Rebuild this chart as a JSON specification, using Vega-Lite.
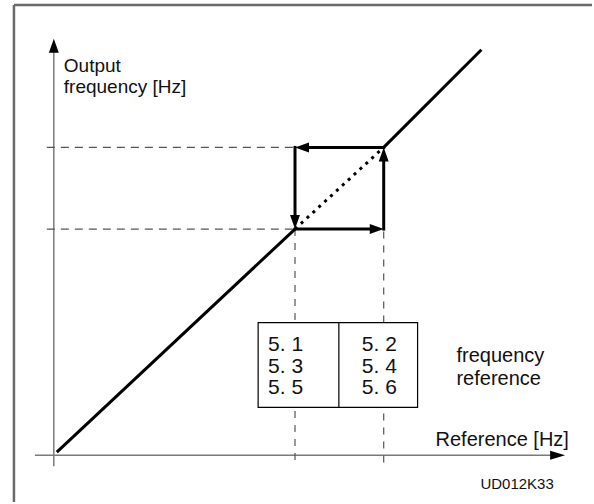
{
  "$schema": "https://vega.github.io/schema/vega-lite/v6.json",
  "width": 594,
  "height": 504,
  "padding": 0,
  "autosize": {"type": "fit", "contains": "padding"},
  "background": "white",
  "config": {"view": {"stroke": null}, "text": {"font": "Liberation Sans"}},
  "datasets": {
    "frame": [
      {"ref": -40, "out": 452, "ref2": 540, "out2": 452},
      {"ref": -40, "out": 452, "ref2": -40, "out2": -47}
    ],
    "axes": [
      {"ref": -19, "out": 0, "ref2": 501, "out2": 0},
      {"ref": 0, "out": -11, "ref2": 0, "out2": 407}
    ],
    "curve": [
      {"ref": 3, "out": 3, "ref2": 242, "out2": 227},
      {"ref": 331, "out": 309, "ref2": 429, "out2": 407}
    ],
    "skip": [
      {"ref": 242, "out": 227, "ref2": 331, "out2": 309}
    ],
    "hyst": [
      {"ref": 242, "out": 227, "ref2": 320, "out2": 227},
      {"ref": 331, "out": 227, "ref2": 331, "out2": 298},
      {"ref": 331, "out": 309, "ref2": 253, "out2": 309},
      {"ref": 242, "out": 309, "ref2": 242, "out2": 238}
    ],
    "hdash": [
      {"ref": -7, "out": 309, "ref2": 242, "out2": 309},
      {"ref": -7, "out": 227, "ref2": 242, "out2": 227}
    ],
    "vdash": [
      {"ref": 242, "out": 227, "ref2": 242, "out2": -10},
      {"ref": 331, "out": 309, "ref2": 331, "out2": -10}
    ],
    "table": [{"ref": 205, "out": 133, "ref2": 365, "out2": 48}],
    "divider": [{"ref": 286, "out": 133, "ref2": 286, "out2": 48}],
    "nums": [
      {"ref": 215, "out": 105, "label": "5. 1"},
      {"ref": 215, "out": 83, "label": "5. 3"},
      {"ref": 215, "out": 61, "label": "5. 5"},
      {"ref": 309, "out": 105, "label": "5. 2"},
      {"ref": 309, "out": 83, "label": "5. 4"},
      {"ref": 309, "out": 61, "label": "5. 6"}
    ],
    "labels": [
      {"ref": 10, "out": 385, "label": "Output"},
      {"ref": 10, "out": 364, "label": "frequency [Hz]"}
    ],
    "rlabels": [
      {"ref": 404, "out": 94, "label": "frequency"},
      {"ref": 404, "out": 70, "label": "reference"},
      {"ref": 383, "out": 9, "label": "Reference [Hz]"}
    ],
    "code": [{"ref": 428, "out": -34, "label": "UD012K33"}]
  },
  "encoding": {
    "x": {"field": "ref", "type": "quantitative", "axis": null, "scale": {"domain": [-54, 540], "nice": false, "zero": false}},
    "y": {"field": "out", "type": "quantitative", "axis": null, "scale": {"domain": [-47, 457], "nice": false, "zero": false}}
  },
  "layer": [
    {
      "data": {"name": "frame"},
      "mark": {"type": "rule", "color": "#6a6a6a", "strokeWidth": 2.5},
      "encoding": {"x2": {"field": "ref2"}, "y2": {"field": "out2"}}
    },
    {
      "data": {"name": "axes"},
      "mark": {"type": "rule", "color": "#7a7a7a", "strokeWidth": 1.5},
      "encoding": {"x2": {"field": "ref2"}, "y2": {"field": "out2"}}
    },
    {
      "data": {"values": [{"ref": 505.5, "out": 0}]},
      "mark": {"type": "point", "shape": "M1,0L-1,-0.6L-1,0.6Z", "size": 225, "filled": true, "color": "black", "opacity": 1}
    },
    {
      "data": {"values": [{"ref": 0, "out": 411}]},
      "mark": {"type": "point", "shape": "M0,-1L0.71,1L-0.71,1Z", "size": 196, "filled": true, "color": "black", "opacity": 1}
    },
    {
      "data": {"name": "hdash"},
      "mark": {"type": "rule", "color": "#555555", "strokeWidth": 1.2, "strokeDash": [8, 6]},
      "encoding": {"x2": {"field": "ref2"}, "y2": {"field": "out2"}}
    },
    {
      "data": {"name": "vdash"},
      "mark": {"type": "rule", "color": "#555555", "strokeWidth": 1.2, "strokeDash": [7, 7]},
      "encoding": {"x2": {"field": "ref2"}, "y2": {"field": "out2"}}
    },
    {
      "data": {"name": "curve"},
      "mark": {"type": "rule", "color": "black", "strokeWidth": 3},
      "encoding": {"x2": {"field": "ref2"}, "y2": {"field": "out2"}}
    },
    {
      "data": {"name": "skip"},
      "mark": {"type": "rule", "color": "black", "strokeWidth": 3, "strokeDash": [3, 5]},
      "encoding": {"x2": {"field": "ref2"}, "y2": {"field": "out2"}}
    },
    {
      "data": {"name": "hyst"},
      "mark": {"type": "rule", "color": "black", "strokeWidth": 3, "strokeCap": "square"},
      "encoding": {"x2": {"field": "ref2"}, "y2": {"field": "out2"}}
    },
    {
      "data": {"values": [{"ref": 324, "out": 227}]},
      "mark": {"type": "point", "shape": "M1,0L-1,-0.71L-1,0.71Z", "size": 196, "filled": true, "color": "black", "opacity": 1}
    },
    {
      "data": {"values": [{"ref": 331, "out": 302}]},
      "mark": {"type": "point", "shape": "M0,-1L0.71,1L-0.71,1Z", "size": 196, "filled": true, "color": "black", "opacity": 1}
    },
    {
      "data": {"values": [{"ref": 249, "out": 309}]},
      "mark": {"type": "point", "shape": "M-1,0L1,-0.71L1,0.71Z", "size": 196, "filled": true, "color": "black", "opacity": 1}
    },
    {
      "data": {"values": [{"ref": 242, "out": 234}]},
      "mark": {"type": "point", "shape": "M0,1L0.71,-1L-0.71,-1Z", "size": 196, "filled": true, "color": "black", "opacity": 1}
    },
    {
      "data": {"name": "table"},
      "mark": {"type": "rect", "fill": "white", "stroke": "black", "strokeWidth": 1.2},
      "encoding": {"x2": {"field": "ref2"}, "y2": {"field": "out2"}}
    },
    {
      "data": {"name": "divider"},
      "mark": {"type": "rule", "color": "black", "strokeWidth": 1.2},
      "encoding": {"x2": {"field": "ref2"}, "y2": {"field": "out2"}}
    },
    {
      "data": {"name": "nums"},
      "mark": {"type": "text", "align": "left", "baseline": "alphabetic", "fontSize": 21, "color": "#111111"},
      "encoding": {"text": {"field": "label"}}
    },
    {
      "data": {"name": "labels"},
      "mark": {"type": "text", "align": "left", "baseline": "alphabetic", "fontSize": 19, "color": "#111111"},
      "encoding": {"text": {"field": "label"}}
    },
    {
      "data": {"name": "rlabels"},
      "mark": {"type": "text", "align": "left", "baseline": "alphabetic", "fontSize": 20, "color": "#111111"},
      "encoding": {"text": {"field": "label"}}
    },
    {
      "data": {"name": "code"},
      "mark": {"type": "text", "align": "left", "baseline": "alphabetic", "fontSize": 15, "color": "#111111"},
      "encoding": {"text": {"field": "label"}}
    }
  ]
}
